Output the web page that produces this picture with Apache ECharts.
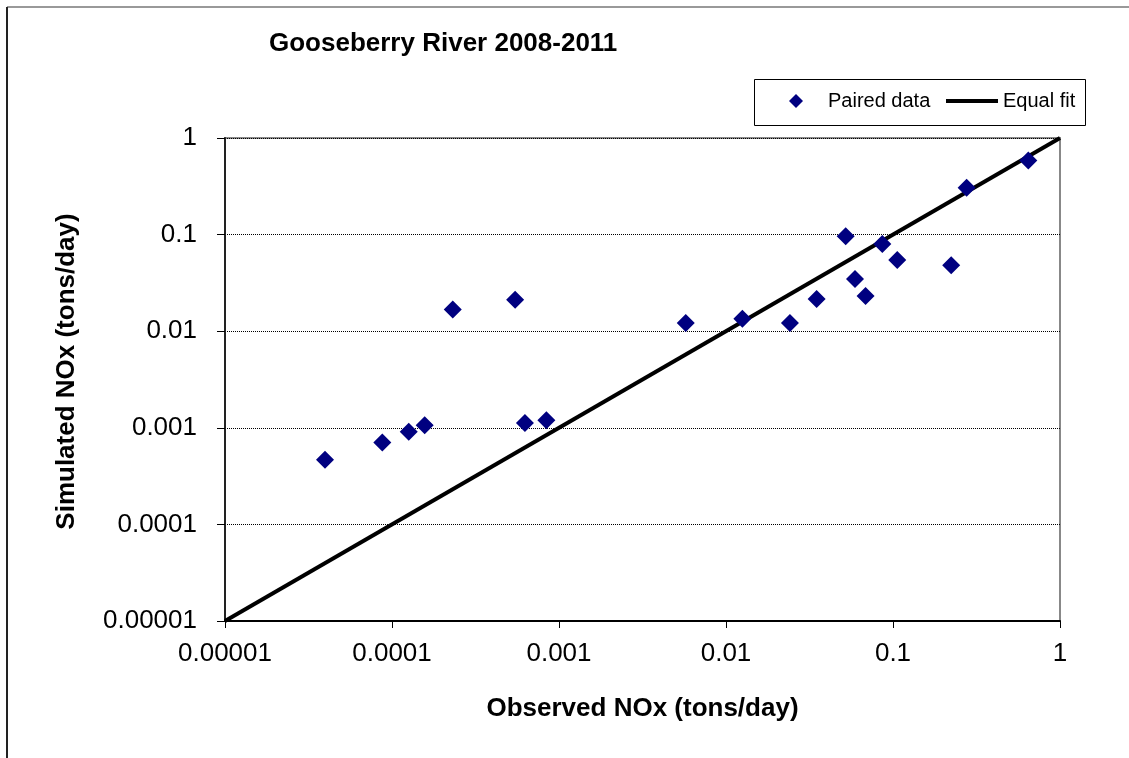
<!DOCTYPE html>
<html>
<head>
<meta charset="utf-8">
<script src="https://cdn.jsdelivr.net/npm/echarts@6/dist/echarts.min.js"></script>
<style>html,body{margin:0;padding:0;background:#fff;}#c{width:1129px;height:758px;}</style>
</head>
<body>
<div id="c"></div>
<script>
// ---- data ----
const chartTitle = 'Gooseberry River 2008-2011';
const xAxisName = 'Observed NOx (tons/day)';
const yAxisName = 'Simulated NOx (tons/day)';
const tickLabels = ['0.00001', '0.0001', '0.001', '0.01', '0.1', '1'];
const observed = [0.0000397, 0.0000875, 0.000126, 0.000157, 0.000231, 0.000546, 0.000625, 0.00084,
  0.00574, 0.01253, 0.02415, 0.0349, 0.0521, 0.0592, 0.0685, 0.0863, 0.106, 0.223, 0.276, 0.646];
const simulated = [0.000466, 0.000704, 0.00091, 0.00106, 0.0168, 0.0211, 0.00112, 0.0012,
  0.01216, 0.01348, 0.01216, 0.0216, 0.096, 0.0348, 0.0232, 0.0801, 0.0547, 0.0481, 0.305, 0.585];
const equalFitX = [0.00001, 1];
const equalFitY = [0.00001, 1];
const seriesNames = ['Paired data', 'Equal fit'];

const pairs = observed.map((v, i) => [v, simulated[i]]);
const fitLine = equalFitX.map((v, i) => [v, equalFitY[i]]);

function fmt(v) {
  const idx = Math.round(Math.log10(v)) + 5;
  return tickLabels[idx] !== undefined ? tickLabels[idx] : '';
}

const FONT = '"Liberation Sans", Arial, sans-serif';
const chart = echarts.init(document.getElementById('c'), null, {renderer: 'canvas'});
chart.setOption({
  animation: false,
  backgroundColor: '#fff',
  title: {
    text: chartTitle,
    left: 264, top: 26,
    textStyle: {fontFamily: FONT, fontWeight: 'bold', fontSize: 26, color: '#000'}
  },
  legend: [
    {
      data: [seriesNames[0]],
      left: 789, top: 91,
      itemWidth: 14, itemHeight: 14,
      padding: 0,
      textStyle: {fontFamily: FONT, fontSize: 20, color: '#000', padding: [0, 0, 0, 20]}
    },
    {
      data: [{name: seriesNames[1], icon: 'rect'}],
      left: 946, top: 91,
      itemWidth: 52, itemHeight: 4,
      padding: 0,
      textStyle: {fontFamily: FONT, fontSize: 20, color: '#000'}
    }
  ],
  graphic: [
    {type: 'line', shape: {x1: 7, y1: 7, x2: 1129, y2: 7}, style: {stroke: '#999', lineWidth: 2}, silent: true},
    {type: 'line', shape: {x1: 7, y1: 7, x2: 7, y2: 758}, style: {stroke: '#222', lineWidth: 2}, silent: true},
    {type: 'rect', shape: {x: 754.5, y: 79.5, width: 331, height: 46}, style: {fill: 'none', stroke: '#000', lineWidth: 1}, silent: true, z: 0}
  ],
  grid: {
    left: 225, right: 69, top: 138, bottom: 137,
    show: true, borderColor: '#888', borderWidth: 2, backgroundColor: '#fff'
  },
  xAxis: {
    type: 'log', logBase: 10, min: 0.00001, max: 1,
    name: xAxisName, nameLocation: 'middle', nameGap: 75,
    nameTextStyle: {fontFamily: FONT, fontWeight: 'bold', fontSize: 26, color: '#000'},
    axisLine: {show: true, onZero: false, lineStyle: {color: '#000', width: 2}},
    axisTick: {show: true, inside: false, length: 7, lineStyle: {color: '#000', width: 1}},
    minorTick: {show: false},
    splitLine: {show: false},
    axisLabel: {fontFamily: FONT, fontSize: 26, color: '#000', margin: 20, formatter: fmt}
  },
  yAxis: {
    type: 'log', logBase: 10, min: 0.00001, max: 1,
    name: yAxisName, nameLocation: 'middle', nameGap: 145, nameRotate: 90,
    nameTextStyle: {fontFamily: FONT, fontWeight: 'bold', fontSize: 26, color: '#000', padding: [0, 0, 0, 16]},
    axisLine: {show: true, onZero: false, lineStyle: {color: '#222', width: 2}},
    axisTick: {show: true, inside: false, length: 8, lineStyle: {color: '#000', width: 1}},
    minorTick: {show: false},
    splitLine: {show: true, lineStyle: {color: '#000', type: 'dotted', width: 1}},
    axisLabel: {fontFamily: FONT, fontSize: 26, color: '#000', margin: 28, formatter: fmt}
  },
  series: [
    {
      name: seriesNames[0], type: 'scatter', data: pairs,
      symbol: 'diamond', symbolSize: 18,
      itemStyle: {color: '#000080', opacity: 1}, z: 3
    },
    {
      name: seriesNames[1], type: 'line', data: fitLine,
      symbol: 'none', showSymbol: false,
      lineStyle: {color: '#000', width: 4}, itemStyle: {color: '#000'}, z: 2
    }
  ]
});
</script>
</body>
</html>
